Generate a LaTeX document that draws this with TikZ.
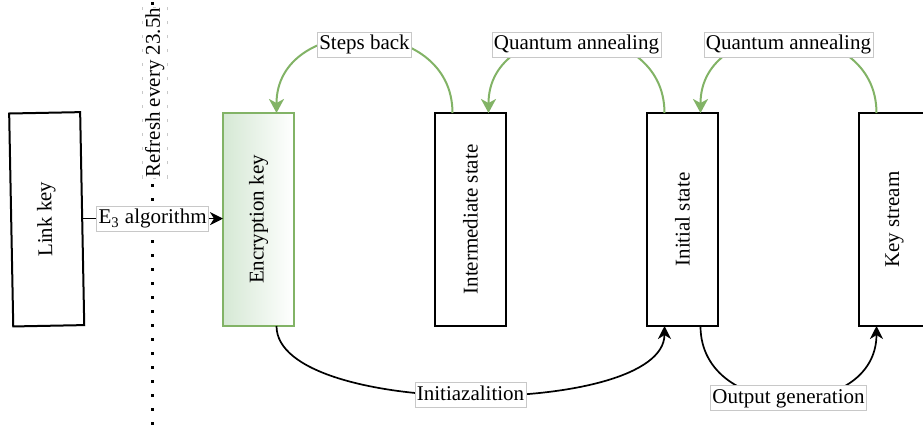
\documentclass[tikz,border=0pt]{standalone}
\usepackage{fontspec}
\setmainfont{Liberation Serif}
\usepackage{xcolor}
\usepackage{graphicx}
\usepackage{tikz}
\usetikzlibrary{arrows.meta, positioning}
\definecolor{keygreen}{RGB}{130,179,102}
\definecolor{encfill}{RGB}{213,232,212}
\definecolor{tagline}{RGB}{200,200,200}

\begin{document}
\begin{tikzpicture}[
  x=0.5pt, y=-0.5pt,
  node distance=70.5pt,
  font={\fontsize{10.5}{12.6}\selectfont},
  keybox/.style={rectangle, draw=black, line width=1pt, outer sep=0pt, inner sep=0pt,
                 minimum width=35.5pt, minimum height=106.5pt},
  greenbox/.style={keybox, draw=keygreen, left color=encfill, right color=white},
  tag/.style={rectangle, fill=white, draw=tagline, text=black, line width=0.3pt,
              inner xsep=1pt, inner ysep=1.3pt, text height=7.6pt, text depth=2.4pt},
  flow/.style={-{Stealth[length=6.5pt, width=6.5pt, inset=2pt]}, line width=0.85pt},
  anneal/.style={-{Stealth[length=7pt, width=7.5pt, inset=2pt]}, line width=1pt, color=keygreen},
  refresh/.style={line width=1.5pt, dash pattern=on 1.5pt off 5.5pt}
]
  \useasboundingbox (0,0) rectangle (923,434);

  % key chain
  \node[keybox, rotate=1.1] (link) at (46.7,219.3) {\rotatebox{90}{Link key}};
  \node[greenbox] (enc) at (258.5,219.5) {\rotatebox{90}{Encryption key}};
  \node[keybox, right=of enc] (inter) {\rotatebox{90}{Intermediate state}};
  \node[keybox, right=of inter] (init) {\rotatebox{90}{Initial state}};
  \node[keybox, right=of init] (stream) {\rotatebox{90}{Key stream}};

  % refresh boundary
  \coordinate (dtop) at (152,2);
  \coordinate (dbot) at (152,434);
  \draw[refresh] (dtop) -- (dbot)
    node[tag, pos=0.21, rotate=90, inner xsep=0.3pt, yshift=-1.3pt] (refreshlabel) {Refresh every 23.5h};

  \draw[flow] (link.east) -- (link.east -| enc.west)
    node[tag, midway] (algo) {E\textsubscript{3} algorithm};

  % annealing loops over the top
  \draw[anneal] ([xshift=-9pt]inter.north) .. controls +(0,-100) and +(0,-100) .. ([xshift=9pt]enc.north)
    node[tag, pos=0.5, yshift=-3.25pt] (back) {Steps back};
  \draw[anneal] ([xshift=-9pt]init.north) .. controls +(0,-100) and +(0,-100) .. ([xshift=9pt]inter.north)
    node[tag, pos=0.5, yshift=-3.25pt] (qa1) {Quantum annealing};
  \draw[anneal] ([xshift=-9pt]stream.north) .. controls +(0,-100) and +(0,-100) .. ([xshift=9pt]init.north)
    node[tag, pos=0.5, yshift=-3.25pt] (qa2) {Quantum annealing};

  % lower connections
  \draw[flow] ([xshift=9pt]enc.south) .. controls +(0,92) and +(0,92) .. ([xshift=-9pt]init.south)
    node[tag, pos=0.5] (initlabel) {Initiazalition};
  \draw[flow] ([xshift=9pt]init.south) .. controls +(0,96) and +(0,96) .. ([xshift=-9pt]stream.south)
    node[tag, pos=0.5] (outlabel) {Output generation};
\end{tikzpicture}
\end{document}
